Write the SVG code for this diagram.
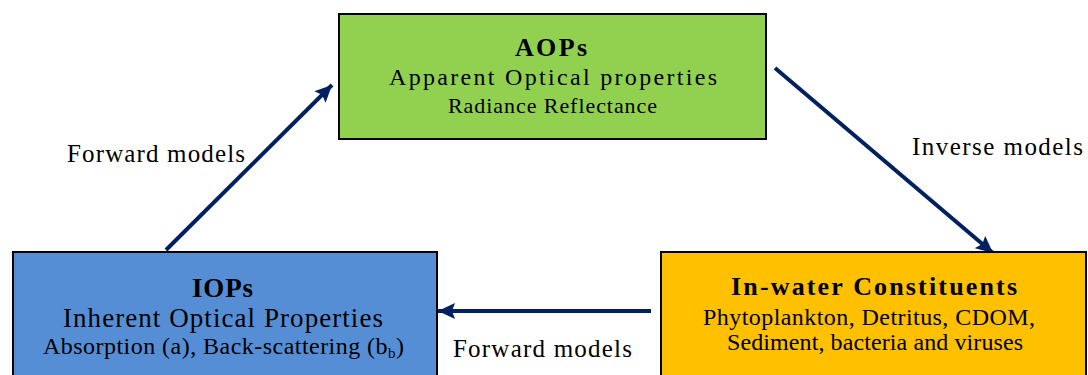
<svg xmlns="http://www.w3.org/2000/svg" width="1088" height="375" viewBox="0 0 1088 375">
<style>
.box{stroke:#000;stroke-width:2}
.t{font-family:"Liberation Serif","Times New Roman",serif;fill:#000}
.b{font-weight:bold}
.conn{stroke:#002060;stroke-width:4;fill:none}
</style>
<defs>
<marker id="ah" markerUnits="userSpaceOnUse" markerWidth="18" markerHeight="16" refX="17" refY="8" orient="auto">
<path d="M0,0 L17,8 L0,16 L3,8 z" fill="#002060"/>
</marker>
</defs>
<rect width="1088" height="375" fill="#fff"/>
<g id="connectors">
<line class="conn" x1="166" y1="250" x2="332" y2="85" marker-end="url(#ah)"/>
<line class="conn" x1="775" y1="68" x2="993" y2="253" marker-end="url(#ah)"/>
<line class="conn" x1="651" y1="311" x2="438" y2="311" marker-end="url(#ah)"/>
<text class="t" x="67" y="162" font-size="25" textLength="178" lengthAdjust="spacing">Forward models</text>
<text class="t" x="912" y="155" font-size="25" textLength="171" lengthAdjust="spacing">Inverse models</text>
<text class="t" x="453" y="357" font-size="25" textLength="179" lengthAdjust="spacing">Forward models</text>
</g>
<g id="aops">
<rect class="box" x="339" y="14" width="427" height="125" fill="#92D050"/>
<text class="t b" x="515" y="56" font-size="26" textLength="72" lengthAdjust="spacing">AOPs</text>
<text class="t" x="389" y="85" font-size="24" textLength="328" lengthAdjust="spacing">Apparent Optical properties</text>
<text class="t" x="448" y="113" font-size="22" textLength="209" lengthAdjust="spacing">Radiance Reflectance</text>
</g>
<g id="iops">
<rect class="box" x="13" y="252" width="424" height="130" fill="#558ED5"/>
<text class="t b" x="192" y="297" font-size="27" textLength="61" lengthAdjust="spacing">IOPs</text>
<text class="t" x="63" y="327" font-size="27" textLength="320" lengthAdjust="spacing">Inherent Optical Properties</text>
<text class="t" x="43" y="354" font-size="24" textLength="361" lengthAdjust="spacing">Absorption (a), Back-scattering (b<tspan font-size="15" dy="4">b</tspan><tspan dy="-4">)</tspan></text>
</g>
<g id="inwater">
<rect class="box" x="661" y="252" width="425" height="130" fill="#FFC000"/>
<text class="t b" x="731" y="295" font-size="26" textLength="286" lengthAdjust="spacing">In-water Constituents</text>
<text class="t" x="703" y="325" font-size="24" textLength="332" lengthAdjust="spacing">Phytoplankton, Detritus, CDOM,</text>
<text class="t" x="727" y="350" font-size="24" textLength="296" lengthAdjust="spacing">Sediment, bacteria and viruses</text>
</g>
</svg>
